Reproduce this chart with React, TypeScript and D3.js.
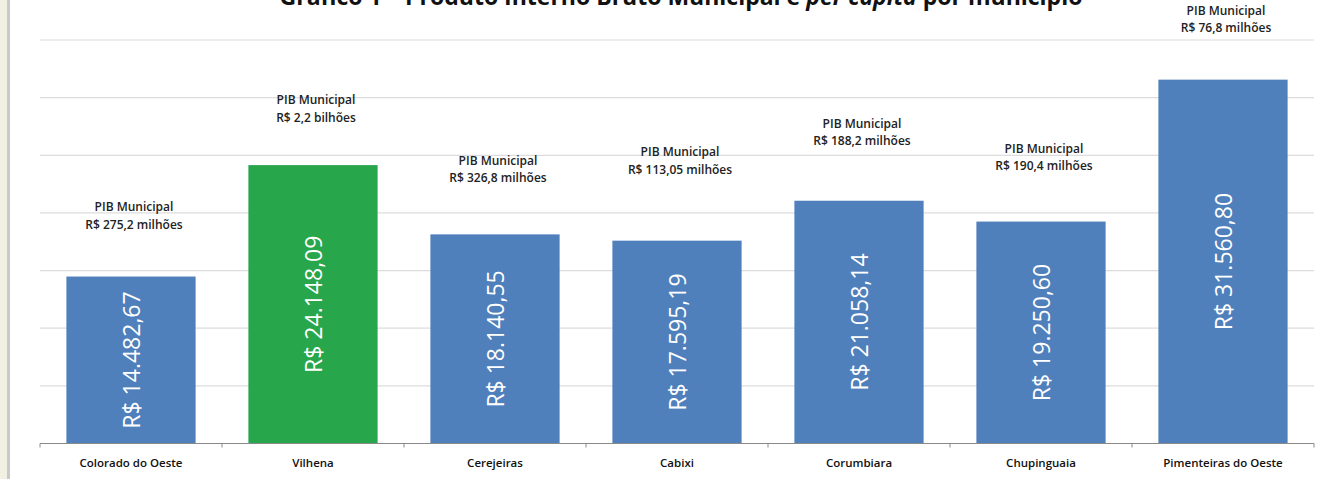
import React from "react";
import * as d3 from "d3";

const categories = [
  "Colorado do Oeste",
  "Vilhena",
  "Cerejeiras",
  "Cabixi",
  "Corumbiara",
  "Chupinguaia",
  "Pimenteiras do Oeste",
];
const pibPerCapita = [14482.67, 24148.09, 18140.55, 17595.19, 21058.14, 19250.6, 31560.8];
const pibMunicipal = [
  "R$ 275,2 milhões",
  "R$ 2,2 bilhões",
  "R$ 326,8 milhões",
  "R$ 113,05 milhões",
  "R$ 188,2 milhões",
  "R$ 190,4 milhões",
  "R$ 76,8 milhões",
];
// level (in value units) at which each "PIB Municipal" note sits
const noteLevel = [20540, 29800, 24590, 25310, 27770, 25600, 37600];
const highlighted = "Vilhena";
const yTicks = [0, 5000, 10000, 15000, 20000, 25000, 30000, 35000];
const titleStart = "Gráfico 1 – Produto Interno Bruto Municipal e ";
const titleItalic = "per capita";
const titleEnd = " por município";

const W = 1332;
const H = 479;
const FONT = "'Open Sans', sans-serif";

const brl = d3.formatLocale({
  decimal: ",",
  thousands: ".",
  grouping: [3],
  currency: ["R$ ", ""],
});
const fmt = brl.format("$,.2f");

export default function App() {
  const x = d3
    .scaleBand<string>()
    .domain(categories)
    .range([40, 1314])
    .paddingInner(0.29)
    .paddingOuter(0.145);
  const y = d3.scaleLinear().domain([0, 35000]).range([443.5, 40]);
  const step = x.step();
  const bw = x.bandwidth();

  return (
    <svg
      width={W}
      height={H}
      style={{ position: "absolute", left: 0, top: 0, background: "#fff" }}
      fontFamily={FONT}
    >
      <rect x={0} y={0} width={7} height={H} fill="#f2efe3" />
      <rect x={7} y={0} width={3} height={H} fill="#c9c9c9" />

      <text x={681} y={5} textAnchor="middle" fontSize={23} fontWeight="bold" fill="#111">
        {titleStart}
        <tspan fontStyle="italic">{titleItalic}</tspan>
        {titleEnd}
      </text>

      {yTicks.slice(1).map((t) => (
        <line key={t} x1={40} x2={1314} y1={y(t)} y2={y(t)} stroke="#dcdcdc" strokeWidth={1.2} />
      ))}

      {categories.map((c, i) => {
        const x0 = x(c)!;
        const v = pibPerCapita[i];
        const top = y(v);
        const cx = x0 + bw / 2;
        const cy = (top + y(0)) / 2;
        return (
          <g key={c}>
            <rect
              x={x0}
              y={top}
              width={bw}
              height={y(0) - top}
              fill={c === highlighted ? "#27a64c" : "#4f80bc"}
            />
            <text
              transform={`translate(${cx},${cy}) rotate(-90)`}
              textAnchor="middle"
              dominantBaseline="central"
              fontSize={23}
              fill="#fff"
            >
              {fmt(v)}
            </text>
            <text
              x={cx + 3}
              y={y(noteLevel[i])}
              textAnchor="middle"
              dominantBaseline="central"
              fontSize={12}
              fontWeight={600}
              fill="#222"
            >
              PIB Municipal
            </text>
            <text
              x={cx + 3}
              y={y(noteLevel[i]) + 17.5}
              textAnchor="middle"
              dominantBaseline="central"
              fontSize={12}
              fontWeight={600}
              fill="#222"
            >
              {pibMunicipal[i]}
            </text>
            <text
              x={cx}
              y={462}
              textAnchor="middle"
              dominantBaseline="central"
              fontSize={11.5}
              fontWeight={600}
              fill="#111"
            >
              {c}
            </text>
          </g>
        );
      })}

      <line x1={40} x2={1314} y1={y(0)} y2={y(0)} stroke="#8a8a8a" strokeWidth={1.2} />
      {d3.range(categories.length + 1).map((k) => {
        const xx = 40 + k * step;
        return <line key={k} x1={xx} x2={xx} y1={y(0)} y2={y(0) + 4} stroke="#8a8a8a" strokeWidth={1} />;
      })}
    </svg>
  );
}
